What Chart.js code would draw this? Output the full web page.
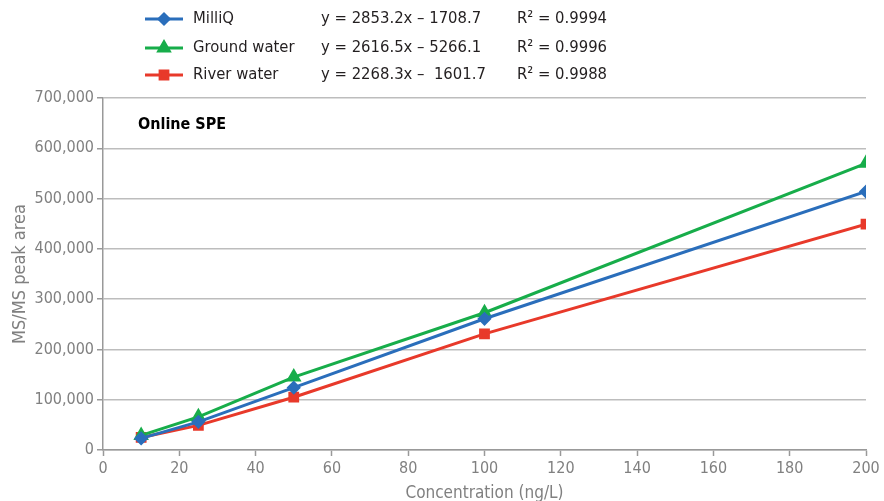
<!DOCTYPE html>
<html>
<head>
<meta charset="utf-8">
<script src="https://cdn.jsdelivr.net/npm/chart.js@4"></script>
<style>
  body { margin: 0; background: #fff; }
  canvas { display: block; }
</style>
</head>
<body>
<canvas id="myChart" width="884" height="501"></canvas>
<script>
var concentration = [10, 25, 50, 100, 200];
var milliQ = [23000, 56000, 124000, 261000, 514000];
var groundWater = [29000, 66000, 145000, 273000, 570000];
var riverWater = [25000, 49000, 105000, 231000, 449000];

var seriesNames = ["MilliQ", "Ground water", "River water"];
var equations = ["y = 2853.2x \u2013 1708.7", "y = 2616.5x \u2013 5266.1", "y = 2268.3x \u2013  1601.7"];
var rSquared = ["0.9994", "0.9996", "0.9988"];

var fontFamily = "'DejaVu Sans Condensed', 'DejaVu Sans', sans-serif";

function points(ys) {
  return concentration.map(function (x, i) { return { x: x, y: ys[i] }; });
}

// legend with equations + the "Online SPE" label
var extrasPlugin = {
  id: 'extras',
  afterDraw: function (chart) {
    var ctx = chart.ctx;
    var rows = [19, 48, 75];
    ctx.save();
    chart.data.datasets.forEach(function (ds, i) {
      var y = rows[i];
      ctx.strokeStyle = ds.borderColor;
      ctx.fillStyle = ds.backgroundColor;
      ctx.lineWidth = 3;
      ctx.beginPath();
      ctx.moveTo(145, y);
      ctx.lineTo(183, y);
      ctx.stroke();
      Chart.helpers.drawPoint(ctx, {
        pointStyle: ds.pointStyle,
        radius: ds.pointRadius,
        rotation: 0,
        borderWidth: 1
      }, 164, y);
      ctx.fillStyle = '#231f20';
      ctx.font = '16.5px ' + fontFamily;
      ctx.textBaseline = 'middle';
      ctx.textAlign = 'left';
      ctx.fillText(seriesNames[i], 193, y);
      ctx.fillText(equations[i], 321, y);
      ctx.fillText('R\u00b2 = ' + rSquared[i], 517, y);
    });
    ctx.fillStyle = '#000';
    ctx.font = 'bold 16px ' + fontFamily;
    ctx.fillText('Online SPE', chart.chartArea.left + 35, chart.chartArea.top + 27);
    ctx.restore();
  }
};

var ctx = document.getElementById("myChart");
var myChart = new Chart(ctx, {
  type: 'line',
  data: {
    datasets: [
      {
        label: seriesNames[0],
        data: points(milliQ),
        borderColor: "#2a6ebb",
        backgroundColor: "#2a6ebb",
        pointStyle: 'rectRot',
        pointRadius: 5,
        borderWidth: 3,
        fill: false
      },
      {
        label: seriesNames[1],
        data: points(groundWater),
        borderColor: "#17ad4a",
        backgroundColor: "#17ad4a",
        pointStyle: 'triangle',
        pointRadius: 6,
        borderWidth: 3,
        fill: false
      },
      {
        label: seriesNames[2],
        data: points(riverWater),
        borderColor: "#e8392a",
        backgroundColor: "#e8392a",
        pointStyle: 'rect',
        pointRadius: 5.5,
        borderWidth: 3,
        fill: false
      }
    ]
  },
  options: {
    responsive: false,
    animation: false,
    layout: { padding: { top: 98, right: 18, left: 0, bottom: 0 } },
    plugins: {
      legend: { display: false },
      tooltip: { enabled: false }
    },
    scales: {
      x: {
        type: 'linear',
        min: 0,
        max: 200,
        ticks: { stepSize: 20, color: '#808080', font: { family: fontFamily, size: 16 }, padding: 3, maxRotation: 0 },
        grid: { drawOnChartArea: false, tickLength: 6, tickColor: '#999', tickWidth: 1.5 },
        border: { color: '#999', width: 1.5 },
        title: { display: true, text: 'Concentration (ng/L)', color: '#808080', font: { family: fontFamily, size: 17 }, padding: { top: 0, bottom: -3 } },
        afterFit: function (scale) { scale.height = 51; }
      },
      y: {
        min: 0,
        max: 700000,
        ticks: {
          stepSize: 100000,
          color: '#808080',
          font: { family: fontFamily, size: 16 },
          padding: 3,
          callback: function (v) { return v.toLocaleString('en-US'); }
        },
        grid: { color: '#bdbdbd', lineWidth: 1.5, tickLength: 6, tickColor: '#999' },
        border: { color: '#999', width: 1.5 },
        title: { display: true, text: 'MS/MS peak area', color: '#808080', font: { family: fontFamily, size: 18 }, padding: { top: 10, bottom: 0 } },
        afterFit: function (scale) { scale.width = 103; }
      }
    }
  },
  plugins: [extrasPlugin]
});
</script>
</body>
</html>
